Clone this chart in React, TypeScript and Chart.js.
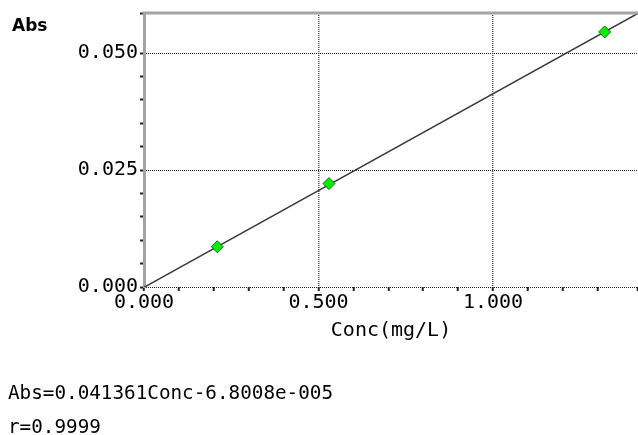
import React, { useEffect, useRef } from 'react';
import { Chart, registerables } from 'chart.js';
Chart.register(...registerables);

// ---- data ----
const concValues = [0.21, 0.53, 1.32];
const absValues = [0.0086, 0.0221, 0.0545];
const fitSlope = 0.041361;
const fitIntercept = -0.000068008;
const fitRange = [0, 1.4155];
const xMajorTicks = [0, 0.5, 1.0];
const yMajorTicks = [0, 0.025, 0.05];
const xLimits = [0, 1.4155];
const yLimits = [0, 0.05855];
const xStep = 0.1;
const yStep = 0.005;
const equationText = 'Abs=0.041361Conc-6.8008e-005';
const rText = 'r=0.9999';
const yTitle = 'Abs';
const xTitle = 'Conc(mg/L)';

const MONO = "'DejaVu Sans Mono', monospace";

const isMajor = (v: number, majors: number[]) => majors.some((m) => Math.abs(m - v) < 1e-9);

const topBorderPlugin = {
  id: 'topBorder',
  afterDraw(chart: any) {
    const { ctx, chartArea } = chart;
    ctx.save();
    ctx.strokeStyle = '#a3a3a3';
    ctx.lineWidth = 3;
    ctx.beginPath();
    ctx.moveTo(chartArea.left - 1.5, chartArea.top);
    ctx.lineTo(chartArea.right, chartArea.top);
    ctx.stroke();
    ctx.restore();
  },
};

export default function App() {
  const ref = useRef<HTMLCanvasElement | null>(null);

  useEffect(() => {
    if (!ref.current) return;
    const points = concValues.map((x, i) => ({ x, y: absValues[i] }));
    const fitLine = fitRange.map((x) => ({ x, y: fitSlope * x + fitIntercept }));
    const chart = new Chart(ref.current, {
      type: 'scatter',
      data: {
        datasets: [
          {
            data: fitLine,
            showLine: true,
            borderColor: '#3a3a3a',
            borderWidth: 1.5,
            pointRadius: 0,
            order: 2,
          },
          {
            data: points,
            pointStyle: 'rectRot',
            pointRadius: 6,
            backgroundColor: '#00ee00',
            borderColor: '#1d6b1d',
            borderWidth: 1,
            order: 1,
          },
        ],
      },
      options: {
        animation: false,
        responsive: false,
        devicePixelRatio: 1,
        layout: { autoPadding: false, padding: { top: 13, left: 0, right: 0, bottom: 0 } },
        plugins: { legend: { display: false }, tooltip: { enabled: false } },
        scales: {
          x: {
            type: 'linear',
            min: xLimits[0],
            max: xLimits[1],
            afterFit: (s: any) => { s.height = 148; s.paddingRight = 0; s.paddingLeft = 0; },
            ticks: {
              stepSize: xStep,
              autoSkip: false,
              maxRotation: 0,
              padding: 0,
              color: '#000',
              font: { family: MONO, size: 20 },
              callback: (v: any) => (isMajor(Number(v), xMajorTicks) ? Number(v).toFixed(3) : ''),
            },
            grid: {
              color: (c: any) => (c.tick && isMajor(c.tick.value, xMajorTicks) && c.tick.value !== 0 ? '#555' : 'rgba(0,0,0,0)'),
              lineWidth: 1.5,
              tickColor: '#222',
              tickLength: 4,
              tickWidth: 2,
            },
            border: { display: false, dash: [1, 1] },
            title: {
              display: true,
              text: xTitle,
              color: '#000',
              font: { family: MONO, size: 20 },
              padding: { top: 2, bottom: 92 },
            },
          },
          y: {
            type: 'linear',
            min: yLimits[0],
            max: yLimits[1],
            afterFit: (s: any) => { s.width = 144; s.paddingTop = 0; s.paddingBottom = 0; },
            ticks: {
              stepSize: yStep,
              autoSkip: false,
              padding: 2,
              color: '#000',
              font: { family: MONO, size: 20 },
              callback: (v: any) => (isMajor(Number(v), yMajorTicks) ? Number(v).toFixed(3) : ''),
            },
            grid: {
              color: (c: any) => (c.tick && isMajor(c.tick.value, yMajorTicks) ? '#222' : 'rgba(0,0,0,0)'),
              lineWidth: 1,
              tickColor: '#222',
              tickLength: 4,
              tickWidth: 2,
            },
            border: { display: true, color: '#a3a3a3', width: 3, dash: [1, 1] },
          },
        },
      },
      plugins: [topBorderPlugin],
    });
    return () => chart.destroy();
  }, []);

  return (
    <div style={{ position: 'absolute', left: 0, top: 0, width: 638, height: 435, background: '#fff', overflow: 'hidden' }}>
      <canvas ref={ref} width={638} height={435} style={{ position: 'absolute', left: 0, top: 0, width: 638, height: 435 }} />
      <div style={{ position: 'absolute', left: 12, top: 15, font: "bold 17px 'DejaVu Sans', sans-serif", lineHeight: '20px', color: '#000' }}>{yTitle}</div>
      <div style={{ position: 'absolute', left: 8, top: 383, font: `19.3px ${MONO}`, lineHeight: '19px', color: '#000', whiteSpace: 'nowrap' }}>{equationText}</div>
      <div style={{ position: 'absolute', left: 8, top: 417, font: `19.3px ${MONO}`, lineHeight: '19px', color: '#000', whiteSpace: 'nowrap' }}>{rText}</div>
    </div>
  );
}
